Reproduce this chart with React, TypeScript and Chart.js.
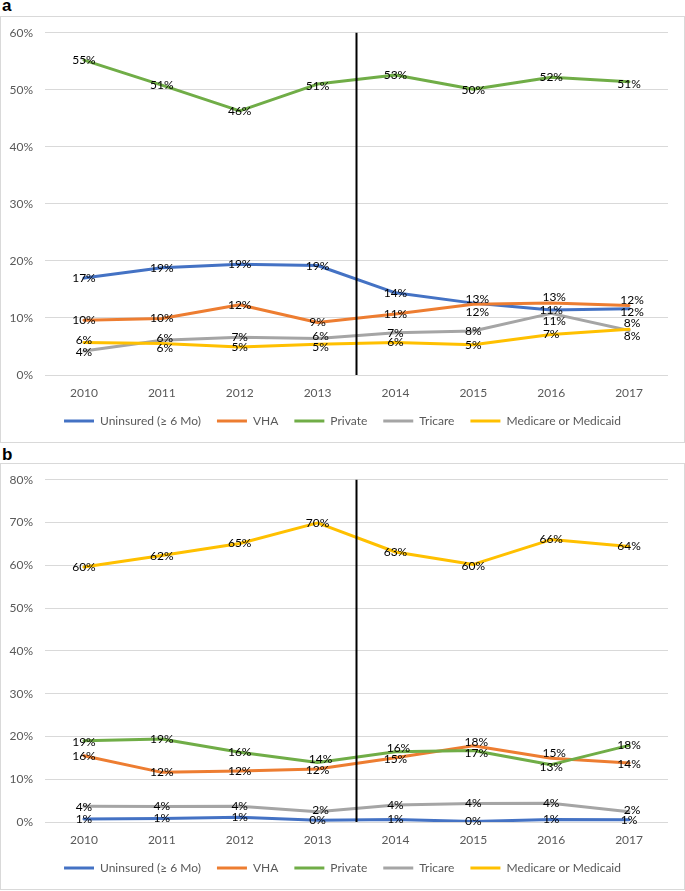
import React, { useEffect, useRef } from "react";
import { Chart, registerables } from "chart.js";

Chart.register(...registerables);

// ---------- data ----------
const years = ["2010", "2011", "2012", "2013", "2014", "2015", "2016", "2017"];
const seriesNames = ["Uninsured (≥ 6 Mo)", "VHA", "Private", "Tricare", "Medicare or Medicaid"];
const seriesColors = ["#4472C4", "#ED7D31", "#70AD47", "#A5A5A5", "#FFC000"];

// Panel a
const aUninsured = [17.0, 18.8, 19.4, 19.2, 14.4, 12.6, 11.4, 11.6];
const aVHA = [9.6, 9.9, 12.3, 9.2, 10.7, 12.4, 12.6, 12.2];
const aPrivate = [55.2, 50.8, 46.3, 51.0, 52.6, 50.1, 52.2, 51.4];
const aTricare = [4.2, 6.1, 6.6, 6.4, 7.4, 7.7, 10.8, 7.8];
const aMedicare = [5.7, 5.5, 4.9, 5.4, 5.7, 5.3, 7.1, 8.0];
const aMax = 60;

// Panel b
const bUninsured = [0.7, 0.8, 1.1, 0.4, 0.6, 0.1, 0.6, 0.5];
const bVHA = [15.5, 11.6, 11.9, 12.4, 15.0, 17.8, 14.9, 13.8];
const bPrivate = [19.0, 19.4, 16.3, 13.9, 16.4, 16.7, 13.4, 17.9];
const bTricare = [3.7, 3.6, 3.7, 2.4, 4.0, 4.3, 4.4, 2.4];
const bMedicare = [59.6, 62.3, 65.1, 69.9, 63.1, 60.2, 66.0, 64.4];
const bMax = 80;

const yStep = 10;
// policy break between 2013 and 2014 (category index 3.5)
const breakIndex = 3.5;

// ---------- label nudges (style, not data) ----------
type Shift = [number, number];
const z: Shift = [0, 0];
const aShifts: Shift[][] = [
  [z, z, z, [0, 1], z, [4, -4], z, [3, 3]],
  [z, z, z, z, z, [4, 8], [3, -6], [3, -5]],
  [z, z, z, [0, 2], z, [0, 1], z, [0, 2]],
  [[0, 1], [3, -2], z, [3, -2], z, z, [3, 8], [3, -7]],
  [[0, -2], [3, 5], z, [3, 3], z, z, z, [3, 7]],
];
const bShifts: Shift[][] = [
  [z, z, z, z, z, z, z, z],
  [z, z, z, [0, 1], [0, 1], [3, -4], [3, -5], [0, 1]],
  [[0, 1], z, z, [3, -3], [3, -4], [3, 3], [0, 2], z],
  [[0, 1], z, z, [3, -2], z, z, z, [3, -2]],
  [z, [0, 1], z, z, z, [0, 2], z, z],
];

const FONT = "Lato, 'Liberation Sans', sans-serif";

function makePlugins(shifts: Shift[][]) {
  const legendShift = {
    id: "legendShift",
    afterLayout(chart: any) {
      if (chart.legend) {
        chart.legend.left += 8;
        chart.legend.right += 8;
      }
    },
  };
  const breakLine = {
    id: "breakLine",
    afterDatasetsDraw(chart: any) {
      const { ctx, chartArea, scales } = chart;
      const x = scales.x.getPixelForValue(breakIndex);
      ctx.save();
      ctx.strokeStyle = "#000";
      ctx.lineWidth = 2;
      ctx.beginPath();
      ctx.moveTo(x, chartArea.top);
      ctx.lineTo(x, chartArea.bottom);
      ctx.stroke();
      ctx.restore();
    },
  };
  const pointLabels = {
    id: "pointLabels",
    afterDatasetsDraw(chart: any) {
      const { ctx } = chart;
      ctx.save();
      ctx.font = `12px ${FONT}`;
      ctx.fillStyle = "#000";
      ctx.textAlign = "center";
      ctx.textBaseline = "middle";
      chart.data.datasets.forEach((ds: any, di: number) => {
        const meta = chart.getDatasetMeta(di);
        meta.data.forEach((pt: any, i: number) => {
          const v = ds.data[i] as number;
          const s = (shifts[di] && shifts[di][i]) || z;
          ctx.fillText(`${Math.round(v)}%`, pt.x + s[0], pt.y + s[1]);
        });
      });
      ctx.restore();
    },
  };
  return [legendShift, breakLine, pointLabels];
}

function LineChart({ series, max, shifts }: { series: number[][]; max: number; shifts: Shift[][] }) {
  const ref = useRef<HTMLCanvasElement | null>(null);
  useEffect(() => {
    if (!ref.current) return;
    const chart = new Chart(ref.current, {
      type: "line",
      data: {
        labels: years,
        datasets: series.map((values, i) => ({
          label: seriesNames[i],
          data: values,
          borderColor: seriesColors[i],
          backgroundColor: seriesColors[i],
          borderWidth: 3,
          pointRadius: 0,
          pointHoverRadius: 0,
          tension: 0,
          fill: false,
          borderJoinStyle: "round" as const,
          borderCapStyle: "round" as const,
          order: series.length - i,
        })),
      },
      options: {
        animation: false,
        responsive: true,
        maintainAspectRatio: false,
        events: [],
        layout: { padding: { top: 15.7, right: 16, left: 0, bottom: 5 } },
        scales: {
          x: {
            offset: true,
            grid: { display: false, drawTicks: false },
            border: { display: false },
            ticks: { color: "#595959", font: { family: FONT, size: 12 }, padding: 11.3 },
            afterFit: (scale: any) => {
              scale.height = 24;
            },
          },
          y: {
            min: 0,
            max,
            ticks: {
              stepSize: yStep,
              color: "#595959",
              font: { family: FONT, size: 12 },
              padding: 12,
              callback: (v: any) => `${v}%`,
            },
            grid: { color: "#D9D9D9", lineWidth: 1, drawTicks: false },
            border: { display: false },
            afterFit: (scale: any) => {
              scale.width = 44;
              scale.paddingTop = 0;
              scale.paddingBottom = 0;
            },
          },
        },
        plugins: {
          tooltip: { enabled: false },
          legend: {
            position: "bottom",
            labels: {
              color: "#595959",
              font: { family: FONT, size: 12 },
              boxWidth: 30,
              boxHeight: 3,
              padding: 16,
              sort: (a: any, b: any) => a.datasetIndex - b.datasetIndex,
              generateLabels: (c: any) =>
                Chart.defaults.plugins.legend.labels.generateLabels(c).map((item: any) => ({
                  ...item,
                  lineWidth: 0,
                  fillStyle: seriesColors[item.datasetIndex],
                })),
            },
          },
        },
      },
      plugins: makePlugins(shifts),
    } as any);
    return () => chart.destroy();
  }, [series, max, shifts]);
  return (
    <div style={{ position: "relative", width: 683, height: 425 }}>
      <canvas ref={ref} />
    </div>
  );
}

const aSeries = [aUninsured, aVHA, aPrivate, aTricare, aMedicare];
const bSeries = [bUninsured, bVHA, bPrivate, bTricare, bMedicare];

const panelLetter: React.CSSProperties = {
  position: "absolute",
  left: 2,
  fontFamily: "'Liberation Sans', Arial, sans-serif",
  fontWeight: "bold",
  fontSize: 17,
  lineHeight: "17px",
  color: "#000",
};

const box: React.CSSProperties = {
  position: "absolute",
  left: 0,
  width: 685,
  boxSizing: "border-box",
  border: "1px solid #D9D9D9",
  background: "#fff",
};

export default function App() {
  return (
    <div style={{ position: "relative", width: 685, height: 891, background: "#fff" }}>
      <style>{"body{margin:0;background:#fff;}"}</style>
      <div style={{ ...panelLetter, top: -3 }}>a</div>
      <div style={{ ...box, top: 16 }}>
        <LineChart series={aSeries} max={aMax} shifts={aShifts} />
      </div>
      <div style={{ ...panelLetter, top: 446 }}>b</div>
      <div style={{ ...box, top: 463 }}>
        <LineChart series={bSeries} max={bMax} shifts={bShifts} />
      </div>
    </div>
  );
}
